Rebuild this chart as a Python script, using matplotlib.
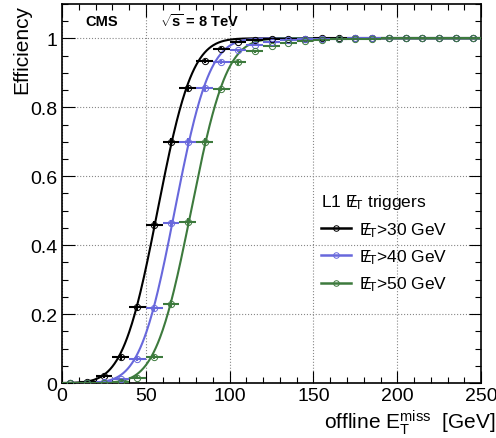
import math
import numpy as np
import matplotlib
matplotlib.use('Agg')
import matplotlib.pyplot as plt
from matplotlib.lines import Line2D
from matplotlib.ticker import MultipleLocator

plt.rcParams['font.family'] = ['Liberation Sans', 'DejaVu Sans']
plt.rcParams['mathtext.fontset'] = 'custom'
plt.rcParams['mathtext.rm'] = 'Liberation Sans'
plt.rcParams['mathtext.it'] = 'Liberation Sans:italic'
plt.rcParams['mathtext.bf'] = 'Liberation Sans:bold'

# bin centres (10 GeV bins)
binCenters = np.arange(5, 250, 10)
binHalfWidth = 5

# efficiencies
eff30 = [0.0, 0.003, 0.02, 0.075, 0.22, 0.46, 0.70, 0.855, 0.935, 0.97,
         0.988, 0.994, 0.997, 0.998, 0.999, 1.0, 1.0, 1.0, 1.0, 1.0,
         1.0, 1.0, 1.0, 1.0, 1.0]
eff40 = [0.0, 0.0, 0.002, 0.012, 0.07, 0.218, 0.463, 0.70, 0.855, 0.932,
         0.965, 0.982, 0.99, 0.995, 0.997, 0.998, 0.999, 1.0, 1.0, 1.0,
         1.0, 1.0, 1.0, 1.0, 1.0]
eff50 = [0.0, 0.0, 0.0, 0.003, 0.016, 0.076, 0.23, 0.467, 0.70, 0.854,
         0.93, 0.962, 0.978, 0.986, 0.993, 0.996, 0.998, 0.999, 0.999, 1.0,
         1.0, 1.0, 1.0, 1.0, 1.0]

# rough statistical errors
err30 = [0.001, 0.002, 0.004, 0.007, 0.01, 0.011, 0.01, 0.008, 0.006, 0.004,
         0.003, 0.002, 0.002, 0.001, 0.001, 0.001, 0.001, 0.001, 0.001, 0.001,
         0.001, 0.001, 0.001, 0.001, 0.001]
err40 = [0.001, 0.001, 0.002, 0.004, 0.007, 0.01, 0.011, 0.01, 0.008, 0.006,
         0.004, 0.003, 0.002, 0.002, 0.001, 0.001, 0.001, 0.001, 0.001, 0.001,
         0.001, 0.001, 0.001, 0.001, 0.001]
err50 = [0.001, 0.001, 0.001, 0.002, 0.004, 0.007, 0.01, 0.011, 0.01, 0.008,
         0.006, 0.004, 0.003, 0.002, 0.002, 0.001, 0.001, 0.001, 0.001, 0.001,
         0.001, 0.001, 0.001, 0.001, 0.001]

thresholds = [30, 40, 50]
effLists = [eff30, eff40, eff50]
errLists = [err30, err40, err50]
colors = ['black', '#6868dc', '#3d7a3d']

vErf = np.vectorize(math.erf)


# Fit an error-function turn-on to the points (simple grid search)
def fitTurnOn(x, y):
    x = np.asarray(x, dtype=float)
    y = np.asarray(y, dtype=float)
    bestChi2 = None
    bestPars = None
    for mu in np.arange(30, 100, 0.25):
        for sigma in np.arange(5, 35, 0.2):
            model = 0.5 * (1 + vErf((x - mu) / (math.sqrt(2) * sigma)))
            chi2 = np.sum((model - y) ** 2)
            if bestChi2 is None or chi2 < bestChi2:
                bestChi2 = chi2
                bestPars = (mu, sigma)
    return bestPars


def turnOn(x, pars):
    mu, sigma = pars
    return 0.5 * (1 + vErf((x - mu) / (math.sqrt(2) * sigma)))


fig = plt.figure(figsize=(4.96, 4.39), dpi=100)
ax = fig.add_axes([0.125, 0.125, 0.845, 0.864])

xCurve = np.linspace(0, 250, 600)
handles = []
for thr, eff, err, col in zip(thresholds, effLists, errLists, colors):
    pars = fitTurnOn(binCenters[:14], eff[:14])
    ax.plot(xCurve, turnOn(xCurve, pars), color=col, lw=1.5, zorder=3)
    ax.errorbar(binCenters, eff, xerr=binHalfWidth, yerr=err, fmt='o', color=col,
                mfc='none', mec=col, ms=4.5, mew=0.7, elinewidth=1.5, capsize=0,
                zorder=4)
    handles.append(Line2D([], [], color=col, lw=1.8, marker='o', mfc='none',
                          mec=col, ms=4, mew=0.7,
                          label=r'$\mathregular{E\!\!\!/_T}$>%d GeV' % thr))

ax.set_xlim(0, 250)
ax.set_ylim(0, 1.1)
ax.xaxis.set_major_locator(MultipleLocator(50))
ax.xaxis.set_minor_locator(MultipleLocator(10))
ax.yaxis.set_major_locator(MultipleLocator(0.2))
ax.yaxis.set_minor_locator(MultipleLocator(0.05))
ax.set_yticks([0, 0.2, 0.4, 0.6, 0.8, 1.0])
ax.set_yticklabels(['0', '0.2', '0.4', '0.6', '0.8', '1'])
ax.tick_params(which='both', direction='in', top=True, right=True, labelsize=14)
ax.tick_params(which='major', length=9, width=0.8)
ax.tick_params(which='minor', length=4.5, width=0.8)
ax.tick_params(axis='x', pad=3)
ax.grid(True, which='major', linestyle=':', color='#888888', lw=0.8)
ax.set_axisbelow(True)
for sp in ax.spines.values():
    sp.set_linewidth(1.2)

ax.set_ylabel('Efficiency', fontsize=15, loc='top')
ax.yaxis.set_label_coords(-0.074, 1.0)
ax.set_xlabel(r'offline $\mathregular{E_T^{miss}}$  [GeV]', fontsize=15, loc='right',
              labelpad=4)
ax.xaxis.set_label_coords(1.035, -0.065)

ax.text(0.055, 0.955, 'CMS', transform=ax.transAxes, fontsize=10.5,
        fontweight='bold', va='center')
ax.text(0.235, 0.955, r'$\mathbf{\sqrt{s}}$ = 8 TeV', transform=ax.transAxes,
        fontsize=10.5, fontweight='bold', va='center')

leg = ax.legend(handles=handles, loc='upper left', bbox_to_anchor=(0.588, 0.535),
                frameon=False, fontsize=12.5, handlelength=1.75, handletextpad=0.45,
                labelspacing=0.5, borderpad=0.2,
                title=r'L1 $\mathregular{E\!\!\!/_T}$ triggers',
                title_fontsize=12.5)
leg._legend_box.align = 'left'

fig.savefig('out.png', dpi=100)
